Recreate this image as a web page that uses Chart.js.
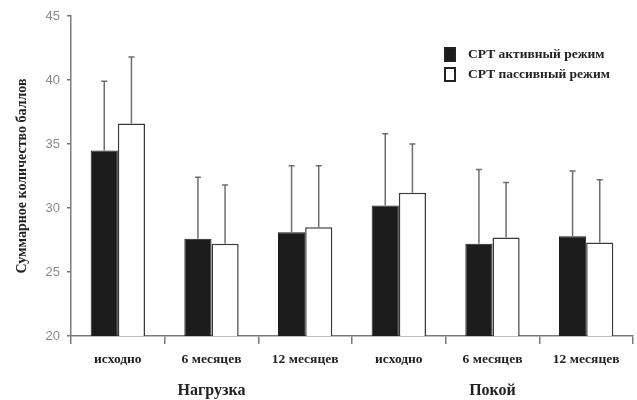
<!DOCTYPE html>
<html>
<head>
<meta charset="utf-8">
<script src="https://cdn.jsdelivr.net/npm/chart.js@4.4.0/dist/chart.umd.min.js"></script>
<style>
  html, body { margin: 0; padding: 0; background: #fff; }
  #wrap { width: 637px; height: 400px; }
</style>
</head>
<body>
<div id="wrap"><canvas id="myChart" width="637" height="400"></canvas></div>
<script>
// data
const categories = ['исходно', '6 месяцев', '12 месяцев', 'исходно', '6 месяцев', '12 месяцев'];
const groupLabels = ['Нагрузка', 'Покой'];
const seriesLabels = ['СРТ активный режим', 'СРТ пассивный режим'];
const activeMean = [34.5, 27.6, 28.1, 30.2, 27.2, 27.8];
const activeSd = [5.4, 4.8, 5.2, 5.6, 5.8, 5.1];
const passiveMean = [36.6, 27.2, 28.5, 31.2, 27.7, 27.3];
const passiveSd = [5.2, 4.6, 4.8, 3.8, 4.3, 4.9];
const yTicks = [20, 25, 30, 35, 40, 45];

const serif = "'Liberation Serif', 'Times New Roman', serif";
const sans = "'Liberation Sans', Arial, sans-serif";
const axisGray = '#7a7a7a';

// upward error bars with caps
const errorBars = {
    id: 'errorBars',
    afterDatasetsDraw(chart) {
        const ctx = chart.ctx;
        const y = chart.scales.y;
        ctx.save();
        ctx.strokeStyle = '#6e6e6e';
        ctx.lineWidth = 1.5;
        chart.data.datasets.forEach((ds, i) => {
            const meta = chart.getDatasetMeta(i);
            meta.data.forEach((bar, j) => {
                const top = y.getPixelForValue(ds.data[j] + ds.sd[j]);
                const base = y.getPixelForValue(ds.data[j]);
                ctx.beginPath();
                ctx.moveTo(bar.x, base);
                ctx.lineTo(bar.x, top);
                ctx.moveTo(bar.x - 3, top);
                ctx.lineTo(bar.x + 3, top);
                ctx.stroke();
            });
        });
        ctx.restore();
    }
};

// group captions under the categories + legend box
const extras = {
    id: 'extras',
    afterDraw(chart) {
        const ctx = chart.ctx;
        const x = chart.scales.x;
        ctx.save();
        ctx.fillStyle = '#222';
        ctx.font = 'bold 16px ' + serif;
        ctx.textAlign = 'center';
        ctx.textBaseline = 'middle';
        groupLabels.forEach((g, k) => {
            const a = x.getPixelForValue(k * 3);
            const b = x.getPixelForValue(k * 3 + 2);
            ctx.fillText(g, (a + b) / 2, 391);
        });

        ctx.font = 'bold 13.5px ' + serif;
        ctx.textAlign = 'left';
        chart.data.datasets.forEach((ds, i) => {
            const top = 48 + i * 20;
            ctx.fillStyle = ds.backgroundColor;
            ctx.fillRect(445, top, 10, 13);
            ctx.strokeStyle = '#222';
            ctx.lineWidth = 2;
            ctx.strokeRect(445, top, 10, 13);
            ctx.fillStyle = '#222';
            ctx.fillText(ds.label, 468, top + 7);
        });
        ctx.restore();
    }
};

new Chart(document.getElementById('myChart'), {
    type: 'bar',
    data: {
        labels: categories,
        datasets: [
            {
                label: seriesLabels[0],
                data: activeMean,
                sd: activeSd,
                backgroundColor: '#1c1c1c',
                borderColor: '#1c1c1c',
                borderWidth: 1
            },
            {
                label: seriesLabels[1],
                data: passiveMean,
                sd: passiveSd,
                backgroundColor: '#ffffff',
                borderColor: '#3a3a3a',
                borderWidth: 1.5
            }
        ]
    },
    options: {
        responsive: false,
        animation: false,
        layout: { padding: { top: 16, right: 4, left: 0, bottom: 0 } },
        datasets: {
            bar: { categoryPercentage: 0.58, barPercentage: 1 }
        },
        plugins: {
            legend: { display: false },
            tooltip: { enabled: false }
        },
        scales: {
            x: {
                grid: {
                    offset: true,
                    drawOnChartArea: false,
                    drawTicks: true,
                    tickLength: 8,
                    color: axisGray,
                    lineWidth: 1.5
                },
                border: { color: axisGray, width: 1.5 },
                ticks: {
                    color: '#222',
                    padding: 7,
                    font: { family: serif, size: 13.5, weight: 'bold' }
                },
                afterFit(scale) { scale.height = 64; }
            },
            y: {
                min: 20,
                max: 45,
                afterBuildTicks(scale) {
                    scale.ticks = yTicks.map(v => ({ value: v }));
                },
                grid: {
                    drawOnChartArea: false,
                    tickLength: 4,
                    color: axisGray,
                    lineWidth: 1.5
                },
                border: { color: axisGray, width: 1.5 },
                ticks: {
                    color: '#8a8a8a',
                    padding: 7,
                    font: { family: sans, size: 13 }
                },
                title: {
                    display: true,
                    text: 'Суммарное количество баллов',
                    color: '#222',
                    padding: { top: 14, bottom: 0 },
                    font: { family: serif, size: 14, weight: 'bold' }
                },
                afterFit(scale) { scale.width = 71; }
            }
        }
    },
    plugins: [errorBars, extras]
});
</script>
</body>
</html>
